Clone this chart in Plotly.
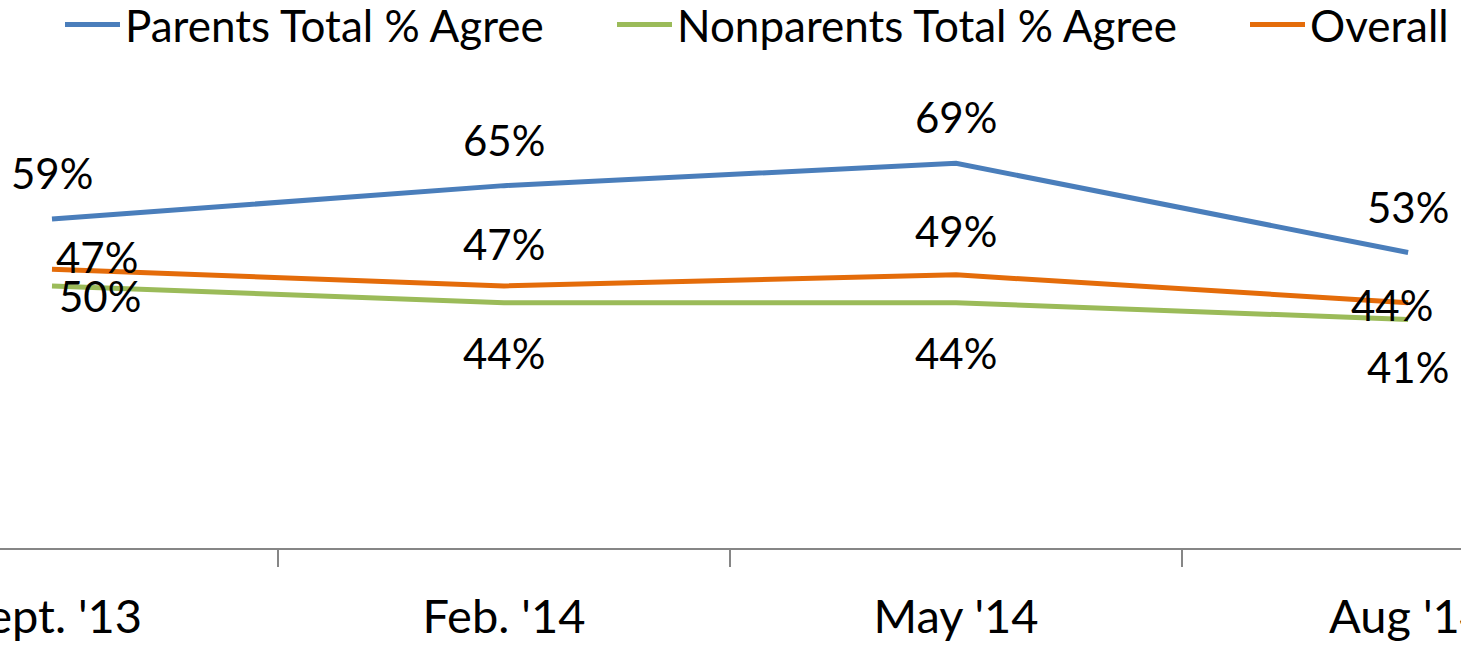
import plotly.graph_objects as go

categories = ["Sept. '13", "Feb. '14", "May '14", "Aug '14"]
parents = [59, 65, 69, 53]
nonparents = [47, 44, 44, 41]
overall = [50, 47, 49, 44]

series_names = ["Parents Total % Agree", "Nonparents Total % Agree", "Overall"]
colors = ["#4A7EBB", "#9BBB59", "#E46C0A"]

# label offsets in pixels (xshift, yshift) - style only
parents_off = [(0, 46), (0, 46), (0, 46), (0, 46)]
nonparents_off = [(45, 29), (0, -50), (0, -50), (0, -48)]
overall_off = [(48, -27), (0, 42), (0, 44), (-16, -2)]

W, H = 1461, 649
FONT = "Lato"

fig = go.Figure()
legends = ["legend", "legend2", "legend3"]
all_vals = [parents, nonparents, overall]
all_offs = [parents_off, nonparents_off, overall_off]

for name, vals, col, lg in zip(series_names, all_vals, colors, legends):
    fig.add_trace(go.Scatter(
        x=categories, y=vals, mode="lines", name=name,
        line=dict(color=col, width=5), legend=lg,
        hoverinfo="skip",
    ))

annotations = []
for vals, offs in zip(all_vals, all_offs):
    for c, v, (dx, dy) in zip(categories, vals, offs):
        annotations.append(dict(
            x=c, y=v, xref="x", yref="y", text=f"{v}%", showarrow=False,
            xshift=dx, yshift=dy, font=dict(family=FONT, size=42, color="black"),
        ))

top, bottom = 102, 101
plot_h = H - top - bottom
leg_y = (H - bottom - 25) / plot_h
leg_x = [60, 612, 1245]
legend_common = dict(orientation="h", yanchor="middle", xanchor="left",
                     font=dict(family=FONT, size=44, color="black"),
                     bgcolor="rgba(0,0,0,0)", borderwidth=0, itemwidth=55)

fig.update_layout(
    width=W, height=H,
    margin=dict(l=0, r=0, t=top, b=bottom, autoexpand=False),
    paper_bgcolor="white", plot_bgcolor="white",
    showlegend=True,
    legend=dict(x=leg_x[0] / W, y=leg_y, **legend_common),
    legend2=dict(x=leg_x[1] / W, y=leg_y, **legend_common),
    legend3=dict(x=leg_x[2] / W, y=leg_y, **legend_common),
    annotations=annotations,
    xaxis=dict(
        type="category", range=[-0.115, 3.117], tickson="boundaries",
        ticks="outside", ticklen=17, tickwidth=2, tickcolor="#868686",
        showline=True, linecolor="#868686", linewidth=2,
        showgrid=False, zeroline=False, automargin=False,
        ticklabelstandoff=27,
        tickfont=dict(family=FONT, size=47, color="black"),
    ),
    yaxis=dict(range=[0, 80], visible=False, showgrid=False, zeroline=False),
)

fig.write_html("out.html", config={"displayModeBar": False},
               post_script="document.body.style.margin='0';")
